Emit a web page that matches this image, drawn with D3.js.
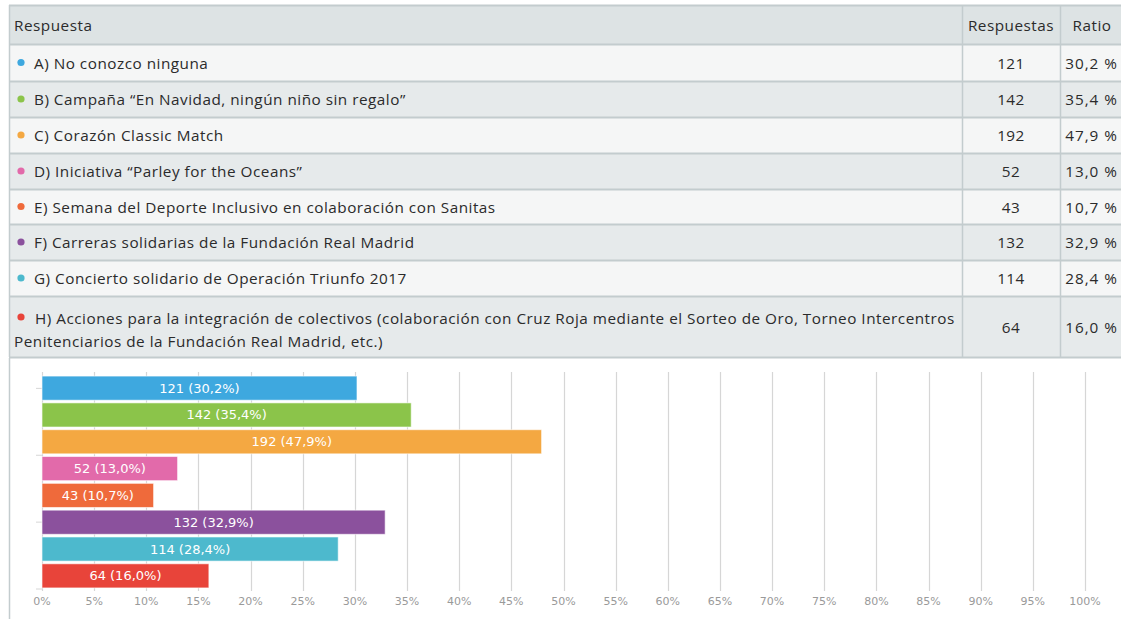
<!DOCTYPE html>
<html><head><meta charset="utf-8">
<script src="https://cdn.jsdelivr.net/npm/d3@7"></script>
<style>
html,body{margin:0;padding:0;background:#fff;}
svg{display:block;}
</style></head>
<body>
<svg id="c" width="1121" height="619"></svg>
<script>
const categories = [
  "A) No conozco ninguna",
  "B) Campaña “En Navidad, ningún niño sin regalo”",
  "C) Corazón Classic Match",
  "D) Iniciativa “Parley for the Oceans”",
  "E) Semana del Deporte Inclusivo en colaboración con Sanitas",
  "F) Carreras solidarias de la Fundación Real Madrid",
  "G) Concierto solidario de Operación Triunfo 2017",
  "H) Acciones para la integración de colectivos (colaboración con Cruz Roja mediante el Sorteo de Oro, Torneo Intercentros\nPenitenciarios de la Fundación Real Madrid, etc.)"
];
const counts = [121, 142, 192, 52, 43, 132, 114, 64];
const ratios = [30.2, 35.4, 47.9, 13.0, 10.7, 32.9, 28.4, 16.0];
const colors = ["#3ea8df", "#8bc44a", "#f4a842", "#e26aaa", "#ef6a3b", "#8b519d", "#4db9cd", "#e8443a"];
const headers = ["Respuesta", "Respuestas", "Ratio"];
const xTicks = d3.range(0, 101, 5);

const fmt = v => v.toFixed(1).replace(".", ",");
const svg = d3.select("#c");
const tableFont = "'Open Sans', sans-serif";

// ---- Table ----
const rowTops = [5, 44, 81, 117, 153, 189, 224, 260, 296, 357];
const colX = [9, 962, 1060, 1121];
const tbl = svg.append("g");
const rowsY = rowTops.slice(0, -1).map((t, i) => ({top: t, bottom: rowTops[i + 1], i}));
tbl.selectAll("rect.row").data(rowsY).join("rect")
  .attr("x", colX[0]).attr("y", d => d.top)
  .attr("width", colX[3] - colX[0]).attr("height", d => d.bottom - d.top)
  .attr("fill", d => d.i === 0 ? "#dde3e4" : (d.i % 2 === 1 ? "#f5f6f6" : "#e6eaeb"));
tbl.selectAll("line.h").data(rowTops).join("line")
  .attr("x1", colX[0]).attr("x2", colX[3])
  .attr("y1", d => d + 0.5).attr("y2", d => d + 0.5)
  .attr("stroke", "#c3ccce").attr("stroke-width", 2);
tbl.selectAll("line.v").data(colX.slice(0, 3)).join("line")
  .attr("x1", d => d + 0.5).attr("x2", d => d + 0.5)
  .attr("y1", rowTops[0]).attr("y2", rowTops[rowTops.length - 1])
  .attr("stroke", "#c3ccce").attr("stroke-width", 1.5);

const txt = (x, y, s, anchor, ls) => tbl.append("text").attr("x", x).attr("y", y)
  .attr("text-anchor", anchor || "start").attr("dominant-baseline", "central")
  .attr("letter-spacing", ls === undefined ? 0.5 : ls)
  .attr("font-family", tableFont).attr("font-size", 15.3).attr("fill", "#2b2b2b").text(s);

txt(14, 25, headers[0]);
txt(1011, 25, headers[1], "middle");
txt(1092, 25, headers[2], "middle");

categories.forEach((c, i) => {
  const r = rowsY[i + 1];
  const lines = c.split("\n");
  const cy = (r.top + r.bottom) / 2;
  if (lines.length === 1) {
    tbl.append("circle").attr("cx", 21).attr("cy", cy).attr("r", 3.6).attr("fill", colors[i]);
    txt(34, cy, lines[0]);
  } else {
    tbl.append("circle").attr("cx", 21).attr("cy", r.top + 21).attr("r", 3.6).attr("fill", colors[i]);
    txt(35, r.top + 22, lines[0]);
    txt(14, r.top + 45, lines[1]);
  }
  txt(1011, cy, counts[i], "middle");
  txt(1118, cy, fmt(ratios[i]) + " %", "end", 1);
});

// ---- Chart ----
svg.append("line").attr("x1", 9.5).attr("x2", 9.5).attr("y1", 358).attr("y2", 619)
  .attr("stroke", "#c3ccce").attr("stroke-width", 1.5);

const x = d3.scaleLinear().domain([0, 100]).range([42, 1085]);
const y = d3.scaleBand().domain(categories).range([375, 589]).paddingInner(0.1).paddingOuter(0.04);
const yIdx = d3.scaleLinear().domain([0, 8]).range([375, 589]);

const chart = svg.append("g");
chart.selectAll("line.grid").data(xTicks).join("line")
  .attr("x1", d => Math.round(x(d)) + 0.5).attr("x2", d => Math.round(x(d)) + 0.5)
  .attr("y1", 372).attr("y2", 591)
  .attr("stroke", "#d6d6d6").attr("stroke-width", 1.2);

chart.selectAll("line.ytick").data([0.5, 3, 5.5, 8]).join("line")
  .attr("x1", 36).attr("x2", 42)
  .attr("y1", d => yIdx(d)).attr("y2", d => yIdx(d))
  .attr("stroke", "#d6d6d6").attr("stroke-width", 1);

chart.selectAll("rect.bar").data(categories).join("rect")
  .attr("x", x(0)).attr("y", d => y(d))
  .attr("width", (d, i) => x(ratios[i]) - x(0)).attr("height", y.bandwidth())
  .attr("fill", (d, i) => colors[i])
  .attr("stroke", "rgba(255,255,255,0.6)").attr("stroke-width", 1);

chart.selectAll("text.lbl").data(categories).join("text")
  .attr("x", (d, i) => (x(0) + x(ratios[i])) / 2)
  .attr("y", d => y(d) + y.bandwidth() / 2)
  .attr("text-anchor", "middle").attr("dominant-baseline", "central")
  .attr("font-family", "'DejaVu Sans', sans-serif").attr("font-size", 13)
  .attr("fill", "#fff")
  .text((d, i) => counts[i] + " (" + fmt(ratios[i]) + "%)");

chart.selectAll("text.tick").data(xTicks).join("text")
  .attr("x", d => x(d)).attr("y", 601)
  .attr("text-anchor", "middle").attr("dominant-baseline", "central")
  .attr("font-family", "'DejaVu Sans', sans-serif").attr("font-size", 11)
  .attr("fill", "#9a9a9a")
  .text(d => d + "%");
</script>
</body></html>
